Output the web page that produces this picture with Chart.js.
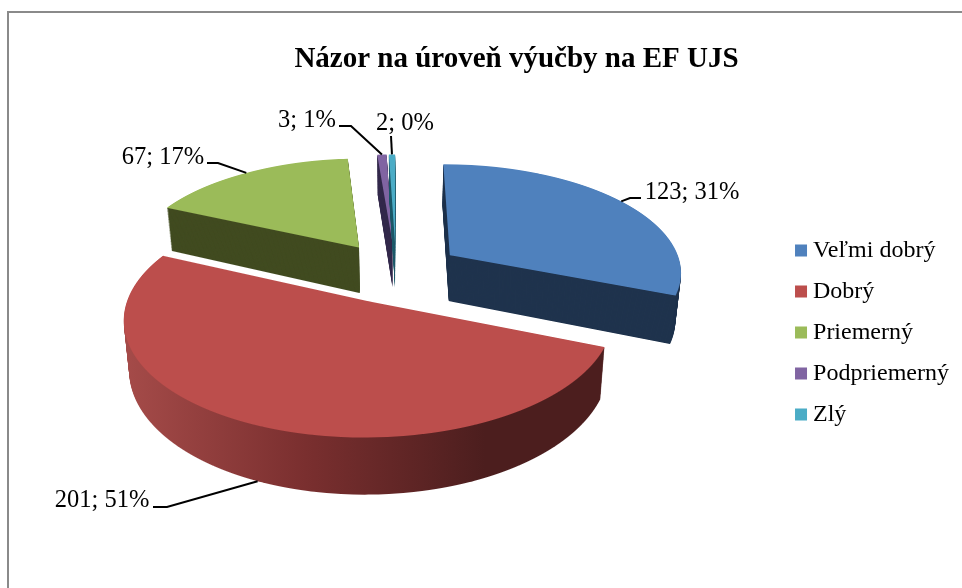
<!DOCTYPE html>
<html>
<head>
<meta charset="utf-8">
<title>Názor na úroveň výučby na EF UJS</title>
<script src="https://cdn.jsdelivr.net/npm/chart.js@4/dist/chart.umd.min.js"></script>
<style>
    html, body { margin: 0; padding: 0; background: #fff; }
    canvas { display: block; filter: blur(0.45px); }
</style>
</head>
<body>
<canvas id="dataChart" width="962" height="588"></canvas>
<script>
const categories = ['Veľmi dobrý', 'Dobrý', 'Priemerný', 'Podpriemerný', 'Zlý'];
const counts = [123, 201, 67, 3, 2];
const percents = [31, 51, 17, 1, 0]; // as printed on the chart
const topColors = ['#4f81bd', '#bc4e4c', '#9bbb59', '#8064a2', '#4bacc6'];
const sideColors = ['#1f334d', '#4c1e1e', '#414b20', '#342a4c', '#1f5a6a'];
const chartTitle = 'Názor na úroveň výučby na EF UJS';

// label text centre + elbow of the leader line, per slice
const labelPos = [[692, 193], [102, 501], [163, 158], [307, 121], [405, 124]];
const leaderPts = [
    [[641, 198], [630, 198]],
    [[153, 507], [167, 507]],
    [[207, 163], [218, 163]],
    [[339, 126], [351, 126]],
    [[391, 136]],
];

// camera of the fake 3D view, flat pie (unit radius) -> screen
const cam = { xc: 396, yh: 272, s0: 233, f: 108, g: 0.14, depth: 47, shrink: 0.02 };
const explode = 0.285;
const drawOrder = [2, 3, 4, 0, 1]; // back to front
const serif = '"Liberation Serif", "Times New Roman", serif';

const project = (X, Y, z) => {
    const w = 1 - cam.g * Y;
    return [cam.xc + cam.s0 * X * (1 - cam.shrink * z / cam.depth) / w, cam.yh + (cam.f * Y + z) / w];
};

// draws one arc element row by row, each row gets its own affine transform
const drawArcAt = (ctx, el, z, fill) => {
    const r = el.outerRadius;
    const mid = (el.startAngle + el.endAngle) / 2;
    const ex = Math.cos(mid) * explode;
    const ey = Math.sin(mid) * explode;

    let minY = ey, maxY = ey;
    for (let i = 0; i <= 60; i++) {
        const a = el.startAngle + (el.endAngle - el.startAngle) * i / 60;
        const Y = ey + Math.sin(a);
        minY = Math.min(minY, Y);
        maxY = Math.max(maxY, Y);
    }
    const firstRow = Math.floor(project(0, minY, z)[1]) - 1;
    const lastRow = Math.ceil(project(0, maxY, z)[1]) + 1;
    const baseOpts = el.options;
    const opts = { ...baseOpts };
    el.options = opts;

    for (let row = firstRow; row <= lastRow; row++) {
        const d0 = row - cam.yh, d1 = row + 1 - cam.yh;
        const Y0 = (d0 - z) / (cam.f + cam.g * d0);
        const Y1 = (d1 - z) / (cam.f + cam.g * d1);
        const Ym = (Y0 + Y1) / 2;
        const sx = cam.s0 * (1 - cam.shrink * z / cam.depth) / (1 - cam.g * Ym) / r;
        const sy = 1 / ((Y1 - Y0) * r);
        const localX = x => (x - cam.xc) / sx + el.x - ex * r;

        opts.backgroundColor = typeof fill === 'function' ? fill(ctx, localX) : fill;

        ctx.save();
        ctx.setTransform(1, 0, 0, 1, 0, 0);
        ctx.beginPath();
        ctx.rect(0, row, ctx.canvas.width, 1);
        ctx.clip();
        ctx.setTransform(sx, 0, 0, sy, cam.xc + sx * (ex * r - el.x), row + sy * ((ey - Y0) * r - el.y));
        el.draw(ctx);
        ctx.restore();
    }
    el.options = baseOpts;
};

// red wall goes from light on the left to dark on the right
const redWall = (ctx, localX) => {
    const grad = ctx.createLinearGradient(localX(125), 0, localX(485), 0);
    grad.addColorStop(0, '#a54b49');
    grad.addColorStop(0.5, '#7a2f2f');
    grad.addColorStop(1, sideColors[1]);
    return grad;
};

const pie3d = {
    id: 'pie3d',
    beforeDraw(chart) {
        const { ctx } = chart;
        ctx.save();
        ctx.fillStyle = '#8a8a8a';
        ctx.fillRect(7, 11, chart.width - 7, 2);
        ctx.fillRect(7, 11, 2, chart.height - 11);
        ctx.restore();
    },
    beforeDatasetsDraw(chart) {
        const { ctx } = chart;
        const arcs = chart.getDatasetMeta(0).data;
        drawOrder.forEach(i => {
            const wall = i === 1 ? redWall : sideColors[i];
            for (let z = cam.depth; z > 0; z -= 1) drawArcAt(ctx, arcs[i], z, wall);
            drawArcAt(ctx, arcs[i], 0, topColors[i]);
        });
        drawLabels(chart, arcs);
        return false; // native flat pie stays undrawn
    },
};

const drawLabels = (chart, arcs) => {
    const { ctx } = chart;
    ctx.save();
    ctx.font = '24.5px ' + serif;
    ctx.fillStyle = '#000';
    ctx.strokeStyle = '#000';
    ctx.lineWidth = 2;
    ctx.textAlign = 'center';
    ctx.textBaseline = 'middle';
    arcs.forEach((el, i) => {
        const mid = (el.startAngle + el.endAngle) / 2;
        const X = Math.cos(mid) * (1 + explode);
        const Y = Math.sin(mid) * (1 + explode);
        const end = project(X, Y, Math.sin(mid) > 0 ? cam.depth : 0);
        ctx.beginPath();
        leaderPts[i].forEach((p, n) => n ? ctx.lineTo(p[0], p[1]) : ctx.moveTo(p[0], p[1]));
        ctx.lineTo(end[0], end[1]);
        ctx.stroke();
        ctx.fillText(counts[i] + '; ' + percents[i] + '%', labelPos[i][0], labelPos[i][1]);
    });
    ctx.restore();
};

let ctx = document.getElementById('dataChart').getContext('2d');
let chartObj = new Chart(ctx, {
    type: 'pie',
    data: {
        labels: categories,
        datasets: [{
            data: counts,
            backgroundColor: topColors,
            borderWidth: 0,
        }]
    },
    options: {
        responsive: false,
        animation: false,
        layout: { padding: { left: 74, top: 42, right: 3, bottom: 0 } },
        plugins: {
            title: {
                display: true,
                text: chartTitle,
                color: '#000',
                font: { family: serif, size: 29, weight: 'bold' },
                padding: { top: 0, bottom: 0 },
            },
            legend: {
                position: 'right',
                fullSize: false,
                labels: {
                    color: '#000',
                    font: { family: serif, size: 24 },
                    usePointStyle: true,
                    pointStyle: 'rect',
                    boxWidth: 0.01,
                    boxHeight: 12,
                    padding: 17,
                },
            },
            tooltip: { enabled: false },
        },
    },
    plugins: [pie3d],
});
</script>
</body>
</html>
